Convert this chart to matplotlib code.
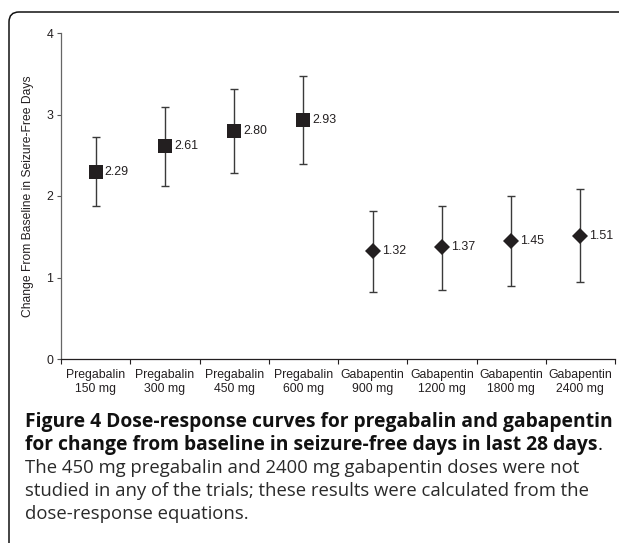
import matplotlib
matplotlib.use("Agg")
import matplotlib.pyplot as plt
from matplotlib.path import Path
from matplotlib.patches import PathPatch
import numpy as np

# ---------------- data ----------------
categories = ["Pregabalin\n150 mg", "Pregabalin\n300 mg", "Pregabalin\n450 mg", "Pregabalin\n600 mg",
              "Gabapentin\n900 mg", "Gabapentin\n1200 mg", "Gabapentin\n1800 mg", "Gabapentin\n2400 mg"]
values = [2.29, 2.61, 2.80, 2.93, 1.32, 1.37, 1.45, 1.51]
upper = [2.72, 3.09, 3.31, 3.47, 1.81, 1.88, 2.00, 2.08]
lower = [1.88, 2.12, 2.28, 2.39, 0.82, 0.85, 0.90, 0.94]
value_labels = ["2.29", "2.61", "2.80", "2.93", "1.32", "1.37", "1.45", "1.51"]
y_ticks = [0, 1, 2, 3, 4]
y_label = "Change From Baseline in Seizure-Free Days"
n_pregabalin = 4

cap_bold_1 = "Figure 4 Dose-response curves for pregabalin and gabapentin"
cap_bold_2 = "for change from baseline in seizure-free days in last 28 days"
cap_regular = ["The 450 mg pregabalin and 2400 mg gabapentin doses were not",
               "studied in any of the trials; these results were calculated from the",
               "dose-response equations."]

# ---------------- figure ----------------
W, H = 619, 543
fig = plt.figure(figsize=(W / 100, H / 100), dpi=100)
fig.patch.set_facecolor("white")

def fx(px):
    return px / W

def fy(py):
    return 1 - py / H

ax_left, ax_right, ax_top, ax_bottom = 61, 615, 33, 359
ax = fig.add_axes([fx(ax_left), fy(ax_bottom), fx(ax_right - ax_left), (ax_bottom - ax_top) / H])

tick_font = ["Liberation Sans", "DejaVu Sans"]
x = np.arange(len(categories))
vals = np.array(values)
yerr = np.array([vals - np.array(lower), np.array(upper) - vals])

err_color = "#3a3a3a"
mark_color = "#231f20"
for i in range(len(categories)):
    is_pre = i < n_pregabalin
    ax.errorbar(x[i], vals[i], yerr=yerr[:, i:i + 1], fmt="none", ecolor=err_color,
                elinewidth=1.0, capsize=2.6, capthick=1.0, zorder=2)
    ax.plot(x[i], vals[i], marker="s" if is_pre else "D", markersize=9.4 if is_pre else 8.2,
            color=mark_color, markeredgewidth=0, linestyle="none", zorder=3)
    ax.annotate(value_labels[i], (x[i], vals[i]), xytext=(6.5, 0), textcoords="offset points",
                ha="left", va="center", fontsize=8.9, family=tick_font, color="#231f20")

ax.set_xlim(-0.5, len(categories) - 0.5)
ax.set_ylim(0, 4)
ax.set_yticks(y_ticks)
ax.set_yticklabels([str(t) for t in y_ticks], family=tick_font, fontsize=8.9, color="#231f20")
ax.set_xticks(x)
ax.set_xticklabels(categories, family=tick_font, fontsize=8.8, color="#231f20", linespacing=1.2)
ax.set_xticks(np.arange(-0.5, len(categories)), minor=True)
ax.tick_params(axis="x", which="major", length=0, pad=7)
ax.tick_params(axis="x", which="minor", length=3.5, width=0.8, direction="out", color="#231f20")
ax.tick_params(axis="y", length=3, width=0.8, direction="out", pad=2.5, color="#555555")
ax.set_ylabel(y_label, family=tick_font, fontsize=8.7, color="#231f20", labelpad=9)

for s in ["top", "right"]:
    ax.spines[s].set_visible(False)
ax.spines["left"].set_color("#666666")
ax.spines["left"].set_linewidth(0.9)
ax.spines["bottom"].set_color("#231f20")
ax.spines["bottom"].set_linewidth(0.9)

# ---------------- frame (rounded top-left corner) ----------------
r = 10
x0, y0 = 9, 12
verts = [(fx(x0), fy(H + 2)), (fx(x0), fy(y0 + r)), (fx(x0), fy(y0)), (fx(x0 + r), fy(y0)), (fx(W + 2), fy(y0))]
codes = [Path.MOVETO, Path.LINETO, Path.CURVE3, Path.CURVE3, Path.LINETO]
fig.patches.append(PathPatch(Path(verts, codes), transform=fig.transFigure, fill=False,
                             edgecolor="#111111", linewidth=1.1))

# ---------------- caption ----------------
renderer = fig.canvas.get_renderer()

def fit_text(txt, y_base, width_px, weight, color, fam):
    t = fig.text(fx(25), fy(y_base), txt, ha="left", va="baseline", fontsize=12,
                 family=fam, weight=weight, color=color)
    w = t.get_window_extent(renderer).width
    t.set_fontsize(12 * width_px / w)
    return t

cap_fam = ["Open Sans", "DejaVu Sans"]
t1 = fit_text(cap_bold_1, 427, 585, "bold", "#111111", cap_fam)
fs_b = t1.get_fontsize()
t2 = fig.text(fx(25), fy(450), cap_bold_2, ha="left", va="baseline", fontsize=fs_b,
              family=cap_fam, weight="bold", color="#111111")
bb = t2.get_window_extent(renderer)
fig.text(fx(25) + bb.width / W, fy(450), ".", ha="left", va="baseline", fontsize=fs_b,
         family=cap_fam, color="#111111")

t3 = fit_text(cap_regular[0], 473, 552, "normal", "#2a2a2a", cap_fam)
fs_r = t3.get_fontsize()
for line, yb in zip(cap_regular[1:], [496, 519]):
    fig.text(fx(25), fy(yb), line, ha="left", va="baseline", fontsize=fs_r,
             family=cap_fam, color="#2a2a2a")

fig.savefig("out.png", dpi=100, facecolor="white")
